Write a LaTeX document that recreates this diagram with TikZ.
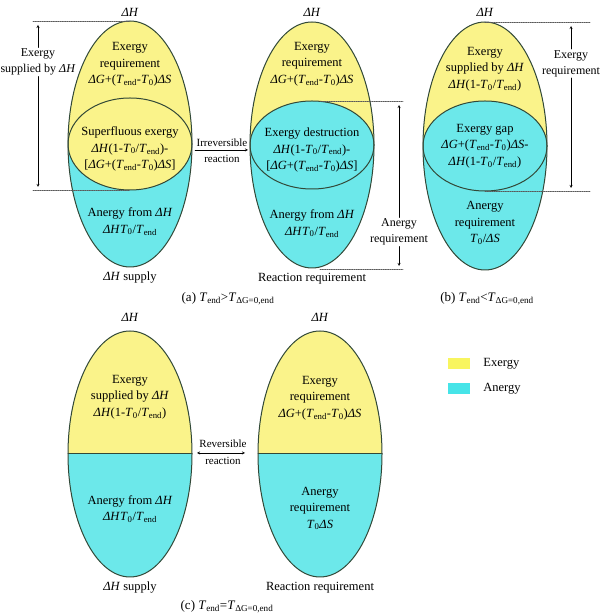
\documentclass[tikz,border=0pt]{standalone}
\usepackage{fontspec}
\setmainfont{Liberation Serif}
\usetikzlibrary{positioning}
\definecolor{exergy}{RGB}{250,243,138}
\definecolor{anergy}{RGB}{108,232,234}
\definecolor{exkey}{RGB}{248,245,95}
\definecolor{ankey}{RGB}{70,228,232}
\definecolor{rim}{RGB}{50,72,55}
\newcommand{\dH}{\textit{ΔH}}
\newcommand{\dG}{\textit{ΔG}}
\newcommand{\dS}{\textit{ΔS}}
\newcommand{\Tend}{\textit{T}\textsubscript{end}}
\newcommand{\Tzero}{\textit{T}\textsubscript{0}}
\newcommand{\TdG}{\textit{T}\textsubscript{ΔG=0,end}}
\tikzset{
	txt/.style={align=center, inner sep=0pt, font=\fontsize{12.5}{16.5}\selectfont},
	side/.style={align=center, inner sep=1pt, font=\fontsize{12}{16}\selectfont},
	small/.style={inner sep=0pt, font=\fontsize{11}{13}\selectfont},
	caption/.style={inner sep=0pt, font=\fontsize{13}{15}\selectfont},
	rim/.style={draw=rim, line width=1pt},
	guide/.style={densely dotted, line width=0.8pt, black!65},
	swatch/.style={minimum width=22pt, minimum height=11pt, inner sep=0pt}
}
\begin{document}
\begin{tikzpicture}[x=1pt, y=1pt, line join=round, line cap=round, >=stealth]
			\useasboundingbox (0,0) rectangle (600,616);
			\path
			(130,472) coordinate (A1)
			(312,471) coordinate (A2)
			(485,470) coordinate (B)
			(130,162) coordinate (C1)
			(320,162) coordinate (C2)
			;
			% (a) Delta H supply
			\fill[anergy] (A1) ellipse (62pt and 123pt);
			\fill[exergy] (A1) ++(-62,0) arc (180:0:62pt and 123pt) -- cycle;
			\fill[exergy] (A1) ellipse (62pt and 46pt);
			\draw[rim] (A1) ellipse (62pt and 46pt);
			\draw[rim] (A1) ellipse (62pt and 123pt);
			\node[txt] (a1top) at (130,551.5) {Exergy\\requirement\\\dG+(\Tend-\Tzero)\dS};
			\node[txt] (a1mid) at (130,467) {Superfluous exergy\\\dH(1-\Tzero/\Tend)-\\\relax[\dG+(\Tend-\Tzero)\dS]};
			\node[txt] (a1bot) at (130,394.5) {Anergy from \dH\\\dH\Tzero/\Tend};
			\node[txt] (a1dH) at (130,604) {\dH};
			\node[txt] (a1sup) at (130,338) {\dH{} supply};
			\path (33,595) coordinate (a1t) (33,426) coordinate (a1b);
			\draw[guide] (a1t) -- (A1 |- a1t);
			\draw[guide] (a1b) -- (A1 |- a1b);
			\node[side] (a1lab) at (38,554) {Exergy\\supplied by \dH};
			\draw[->, shorten >=4pt] (a1lab.north) -- (a1lab.north |- a1t);
			\draw[->, shorten >=3pt] (a1lab.south) -- (a1lab.south |- a1b);
			% irreversible
			\node[small] (irr) at (222,473) {Irreversible};
			\node[small] (irr2) at (222,457) {reaction};
			\path (195,466) coordinate (irrS) (248,466) coordinate (irrE);
			\draw[->] (irrS) -- (irrE);
			% (a) reaction requirement
			\fill[anergy] (A2) ellipse (62pt and 123pt);
			\fill[exergy] (A2) ++(-62,0) arc (180:0:62pt and 123pt) -- cycle;
			\fill[anergy] (A2) ellipse (62pt and 44pt);
			\draw[rim] (A2) ellipse (62pt and 44pt);
			\draw[rim] (A2) ellipse (62pt and 123pt);
			\node[txt] (a2top) at (312,552) {Exergy\\requirement\\\dG+(\Tend-\Tzero)\dS};
			\node[txt] (a2mid) at (312,466) {Exergy destruction\\\dH(1-\Tzero/\Tend)-\\\relax[\dG+(\Tend-\Tzero)\dS]};
			\node[txt] (a2bot) at (312,392.5) {Anergy from \dH\\\dH\Tzero/\Tend};
			\node[txt] (a2dH) at (312,604) {\dH};
			\node[txt] (a2req) at (312,337) {Reaction requirement};
			\path (403,515) coordinate (a2t) (403,347) coordinate (a2b);
			\draw[guide] ([xshift=8pt]A2 |- a2t) -- (a2t);
			\draw[guide] ([xshift=8pt]A2 |- a2b) -- (a2b);
			\node[side] (a2lab) at (399,384) {Anergy\\requirement};
			\draw[->, shorten >=4pt] (a2lab.north) -- (a2lab.north |- a2t);
			\draw[->, shorten >=3pt] (a2lab.south) -- (a2lab.south |- a2b);
			\node[caption] (capa) at (228,317) {(a) \Tend>\TdG};
			% (b)
			\fill[anergy] (B) ellipse (62pt and 124pt);
			\fill[exergy] (B) ++(-62,0) arc (180:0:62pt and 124pt) -- cycle;
			\fill[anergy] (B) ellipse (62pt and 45pt);
			\draw[rim] (B) ellipse (62pt and 45pt);
			\draw[rim] (B) ellipse (62pt and 124pt);
			\node[txt] (btop) at (485,547) {Exergy\\supplied by \dH\\\dH(1-\Tzero/\Tend)};
			\node[txt] (bmid) at (485,470) {Exergy gap\\\dG+(\Tend-\Tzero)\dS-\\\dH(1-\Tzero/\Tend)};
			\node[txt] (bbot) at (485,393) {Anergy\\requirement\\\Tzero/\dS};
			\node[txt] (bdH) at (485,604) {\dH};
			\path (590,594) coordinate (bt) (590,425) coordinate (bb);
			\draw[guide] (B |- bt) -- (bt);
			\draw[guide] (B |- bb) -- (bb);
			\node[side] (blab) at (571,552.5) {Exergy\\requirement};
			\draw[->, shorten >=4pt] (blab.north) -- (blab.north |- bt);
			\draw[->, shorten >=3pt] (blab.south) -- (blab.south |- bb);
			\node[caption] (capb) at (487,317) {(b) \Tend<\TdG};
			% (c)
			\fill[anergy] (C1) ellipse (62pt and 123pt);
			\fill[exergy] (C1) ++(-62,0) arc (180:0:62pt and 123pt) -- cycle;
			\draw[rim] (C1) ++(-62,0) -- ++(124,0);
			\draw[rim] (C1) ellipse (62pt and 123pt);
			\fill[anergy] (C2) ellipse (62pt and 123pt);
			\fill[exergy] (C2) ++(-62,0) arc (180:0:62pt and 123pt) -- cycle;
			\draw[rim] (C2) ++(-62,0) -- ++(124,0);
			\draw[rim] (C2) ellipse (62pt and 123pt);
			\node[txt] (c1top) at (130,219) {Exergy\\supplied by \dH\\\dH(1-\Tzero/\Tend)};
			\node[txt] (c1bot) at (130,107) {Anergy from \dH\\\dH\Tzero/\Tend};
			\node[txt] (c1dH) at (130,299) {\dH};
			\node[txt] (c1sup) at (130,28) {\dH{} supply};
			\node[txt] (c2top) at (320,218) {Exergy\\requirement\\\dG+(\Tend-\Tzero)\dS};
			\node[txt] (c2bot) at (320,107.5) {Anergy\\requirement\\\Tzero\dS};
			\node[txt] (c2dH) at (320,299) {\dH};
			\node[txt] (c2req) at (320,28) {Reaction requirement};
			\node[small] (rev) at (223,172) {Reversible};
			\node[small] (rev2) at (223,155) {reaction};
			\path (197,163) coordinate (revS) (245,163) coordinate (revE);
			\draw[<->] (revS) -- (revE);
			\node[caption] (capc) at (227,9) {(c) \Tend=\TdG};
			% legend
			\node[swatch, fill=exkey] (kex) at (459,252.5) {};
			\node[swatch, fill=ankey] (kan) at (459,227) {};
			\node[txt, right=13pt of kex] (lex) {Exergy};
			\node[txt, right=13pt of kan] (lan) {Anergy};
		\end{tikzpicture}
\end{document}
